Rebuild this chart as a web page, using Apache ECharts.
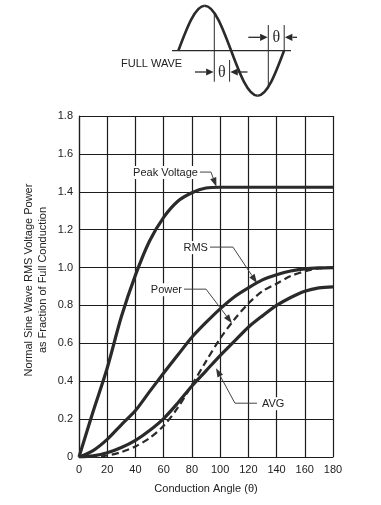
<!DOCTYPE html>
<html>
<head>
<meta charset="utf-8">
<script src="https://cdn.jsdelivr.net/npm/echarts@6/dist/echarts.min.js"></script>
<style>
html,body{margin:0;padding:0;background:#fff;}
#chart{width:381px;height:505px;}
</style>
</head>
<body>
<div id="chart"></div>
<script>
// ---- data ----
const angles      = [0, 10, 20, 30, 40, 50, 60, 70, 80, 90, 100, 110, 120, 130, 140, 150, 160, 170, 180];
const peakVoltage = [0, 0.24, 0.47, 0.74, 0.96, 1.14, 1.265, 1.35, 1.395, 1.42, 1.424, 1.424, 1.424, 1.424, 1.424, 1.424, 1.424, 1.424, 1.424];
const rmsVoltage  = [0, 0.034, 0.093, 0.17, 0.245, 0.345, 0.443, 0.538, 0.632, 0.71, 0.782, 0.845, 0.893, 0.935, 0.962, 0.982, 0.993, 0.998, 1.0];
const powerFrac   = [0, 0.001, 0.008, 0.026, 0.056, 0.1, 0.165, 0.26, 0.38, 0.505, 0.625, 0.725, 0.81, 0.875, 0.915, 0.955, 0.98, 0.995, 1.0];
const avgVoltage  = [0, 0.006, 0.022, 0.05, 0.088, 0.14, 0.203, 0.285, 0.375, 0.455, 0.535, 0.61, 0.685, 0.745, 0.8, 0.842, 0.875, 0.893, 0.898];
const xTickLabels = ['0', '20', '40', '60', '80', '100', '120', '140', '160', '180'];
const yTickLabels = ['0', '0.2', '0.4', '0.6', '0.8', '1.0', '1.2', '1.4', '1.6', '1.8'];
const xAxisTitle = 'Conduction Angle (θ)';
const yAxisTitle = ['Normal Sine Wave RMS Voltage Power', 'as Fraction of Full Conduction'];
const diagramTitle = 'FULL WAVE';

// annotation callouts (data coordinates: label anchor, elbow, arrow tip)
const callouts = [
  { text: 'Peak Voltage', side: 'left',  start: [85.7, 1.504],  elbow: [93.5, 1.504],  tip: [97.4, 1.427] },
  { text: 'RMS',          side: 'left',  start: [92.8, 1.108],  elbow: [109.1, 1.108], tip: [126.1, 0.918] },
  { text: 'Power',        side: 'left',  start: [74.4, 0.886],  elbow: [90.0, 0.886],  tip: [108.4, 0.706] },
  { text: 'AVG',          side: 'right', start: [126.1, 0.284], elbow: [110.5, 0.284], tip: [97.1, 0.469] }
];

const FONT = '"Liberation Sans", Arial, Helvetica, sans-serif';
const INK = '#2a2a2a';
const GRID = '#1c1c1c';
const TEXT = '#222';

const chart = echarts.init(document.getElementById('chart'), null, { renderer: 'canvas' });

function pairs(vals) { return angles.map((a, i) => [a, vals[i]]); }
function curve(name, vals, dashed) {
  return {
    type: 'line', name: name, data: pairs(vals),
    smooth: 0.3,
    showSymbol: false, symbol: 'none', silent: true,
    lineStyle: { color: INK, width: dashed ? 2.2 : 3.2, type: dashed ? [7, 4] : 'solid', cap: 'butt' },
    z: 3
  };
}

chart.setOption({
  animation: false,
  backgroundColor: '#fff',
  grid: { left: 79, right: 48, top: 116, bottom: 48 },
  xAxis: {
    type: 'value', min: 0, max: 180, interval: 20,
    axisLine: { show: true, lineStyle: { color: GRID, width: 1.2 } },
    axisTick: { show: false },
    splitLine: { show: true, lineStyle: { color: GRID, width: 1.2 } },
    axisLabel: {
      margin: 7, color: TEXT, fontFamily: FONT, fontSize: 11,
      formatter: (v) => xTickLabels[Math.round(v / 20)]
    },
    name: xAxisTitle, nameLocation: 'middle', nameGap: 26,
    nameTextStyle: { color: TEXT, fontFamily: FONT, fontSize: 11 }
  },
  yAxis: {
    type: 'value', min: 0, max: 1.8, interval: 0.2,
    axisLine: { show: true, lineStyle: { color: GRID, width: 1.2 } },
    axisTick: { show: false },
    splitLine: { show: true, lineStyle: { color: GRID, width: 1.2 } },
    axisLabel: {
      margin: 6, color: TEXT, fontFamily: FONT, fontSize: 11,
      formatter: (v) => yTickLabels[Math.round(v / 0.2)]
    }
  },
  series: [
    curve('Peak Voltage', peakVoltage, false),
    curve('RMS', rmsVoltage, false),
    curve('Power', powerFrac, true),
    curve('AVG', avgVoltage, false)
  ]
});

// ---- graphics: callouts, axis title, waveform diagram ----
const els = [];
function arrowHead(tip, from, len, half, color) {
  const dx = tip[0] - from[0], dy = tip[1] - from[1];
  const d = Math.hypot(dx, dy) || 1;
  const ux = dx / d, uy = dy / d;
  const bx = tip[0] - ux * len, by = tip[1] - uy * len;
  return {
    base: [bx, by],
    el: { type: 'polygon', silent: true, z: 10,
      shape: { points: [tip, [bx - uy * half, by + ux * half], [bx + uy * half, by - ux * half]] },
      style: { fill: color, stroke: null } }
  };
}

callouts.forEach((c) => {
  const s = chart.convertToPixel({ gridIndex: 0 }, c.start);
  const e = chart.convertToPixel({ gridIndex: 0 }, c.elbow);
  const t = chart.convertToPixel({ gridIndex: 0 }, c.tip);
  const head = arrowHead(t, e, 9, 3.2, '#333');
  els.push({ type: 'polyline', silent: true, z: 9,
    shape: { points: [s, e, head.base] },
    style: { stroke: '#444', lineWidth: 1, fill: null } });
  els.push(head.el);
  els.push({ type: 'text', silent: true, z: 11,
    x: c.side === 'left' ? s[0] - 1 : s[0] + 4, y: s[1] + 0.5,
    style: { text: c.text, font: '11px ' + FONT, fill: TEXT,
      textAlign: c.side === 'left' ? 'right' : 'left', textVerticalAlign: 'middle', verticalAlign: 'middle',
      backgroundColor: '#fff', padding: [1, 1, 1, 1] } });
});

// y-axis title (two lines, rotated)
els.push({ type: 'text', silent: true, x: 35.5, y: 280, rotation: Math.PI / 2,
  style: { text: yAxisTitle.join('\n'), font: '11px ' + FONT, fill: TEXT, lineHeight: 14,
    textAlign: 'center', textVerticalAlign: 'middle', verticalAlign: 'middle' } });

// waveform diagram
const W = '#2a2a2a';
els.push({ type: 'line', silent: true, shape: { x1: 172, y1: 50.7, x2: 291, y2: 50.7 }, style: { stroke: W, lineWidth: 1.3 } });
const bez = [
  [178.3, 50.7, 186.92, 27.65, 195.17, 5.7, 204.73, 5.7],
  [204.73, 5.7, 214.29, 5.7, 222.53, 27.65, 231.16, 50.7],
  [231.16, 50.7, 239.78, 73.75, 248.03, 95.7, 257.59, 95.7],
  [257.59, 95.7, 267.15, 95.7, 275.39, 73.75, 284.02, 50.7]
];
bez.forEach((b) => els.push({ type: 'bezierCurve', silent: true,
  shape: { x1: b[0], y1: b[1], cpx1: b[2], cpy1: b[3], cpx2: b[4], cpy2: b[5], x2: b[6], y2: b[7] },
  style: { stroke: W, lineWidth: 2.6, fill: null } }));
function vline(x, y1, y2) { els.push({ type: 'line', silent: true, shape: { x1: x, y1: y1, x2: x, y2: y2 }, style: { stroke: W, lineWidth: 1 } }); }
vline(214.3, 12.5, 81.7);
vline(229.6, 60, 81.7);
vline(268.3, 25, 87.5);
vline(284.2, 25, 50.7);
function hArrow(xFrom, xTip, y) {
  const h = arrowHead([xTip, y], [xFrom, y], 7.5, 3.6, W);
  els.push({ type: 'line', silent: true, shape: { x1: xFrom, y1: y, x2: h.base[0], y2: y }, style: { stroke: W, lineWidth: 1.3 } });
  els.push(h.el);
}
hArrow(195, 213.6, 72);
hArrow(247.5, 230.3, 72);
hArrow(248.3, 267.6, 37.3);
hArrow(297, 284.9, 37.3);
function theta(x, y) {
  els.push({ type: 'text', silent: true, x: x, y: y,
    style: { text: 'θ', font: '16px "Liberation Serif", "Times New Roman", serif', fill: W,
      textAlign: 'center', textVerticalAlign: 'middle', verticalAlign: 'middle' } });
}
theta(221.9, 72.5);
theta(276.4, 37.8);
els.push({ type: 'text', silent: true, x: 121, y: 63.5,
  style: { text: diagramTitle, font: '11px ' + FONT, fill: TEXT, textAlign: 'left', textVerticalAlign: 'middle', verticalAlign: 'middle' } });

chart.setOption({ graphic: { elements: els } });
</script>
</body>
</html>
